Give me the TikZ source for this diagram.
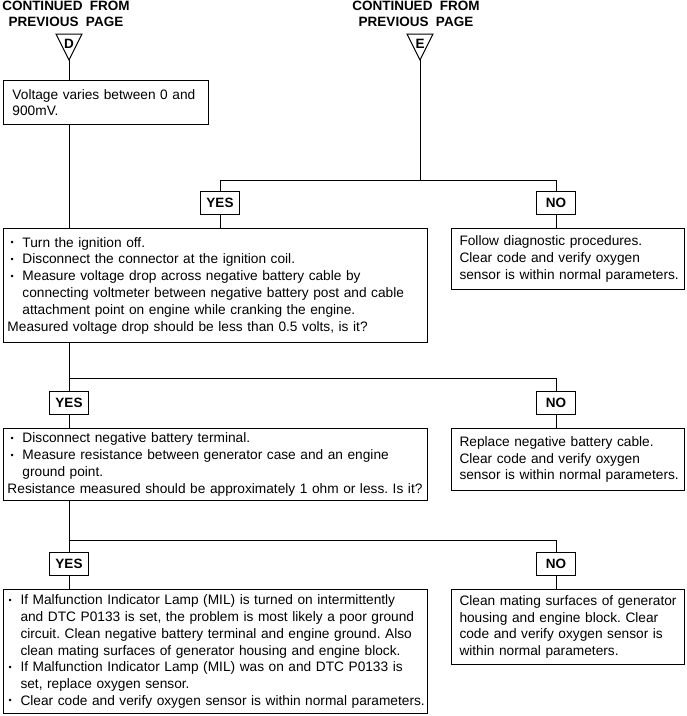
\documentclass[tikz,border=0pt]{standalone}
\usepackage{fontspec}
\setmainfont{Liberation Sans}
\frenchspacing
\newcommand\bul{\makebox[15pt][l]{\hspace{3pt}\raisebox{0.22ex}{\fontsize{9}{9}\selectfont•}}}
\newcommand\cont{\hspace*{15pt}}
\begin{document}
\begin{tikzpicture}[x=1pt,y=-1pt,
  every node/.style={font=\fontsize{13.7}{16.8}\selectfont},
  line/.style={line width=1pt},
  box/.style={draw, line width=1pt, anchor=north west, align=left, inner ysep=3pt},
  tag/.style={draw, line width=1pt, minimum width=39pt, minimum height=23pt, inner sep=0pt, font=\fontsize{13.5}{15}\selectfont\bfseries},
  head/.style={align=center, inner sep=0pt, font=\fontsize{13.5}{16}\selectfont\bfseries}]
\useasboundingbox (0,0) rectangle (687,716);

% headings
\node[head] (hD) at (66,14) {CONTINUED\ \ FROM\\PREVIOUS\ \ PAGE};
\node[head] (hE) at (416,14) {CONTINUED\ \ FROM\\PREVIOUS\ \ PAGE};
\draw[line] (56,34) -- (82,34) -- (69,60) -- cycle;
\draw[line] (407,34) -- (433,34) -- (420,60) -- cycle;
\coordinate (dA) at (69,60);
\coordinate (eA) at (420,60);
\node[inner sep=0pt, font=\fontsize{13.5}{14}\selectfont\bfseries] (dL) at (69,44) {D};
\node[inner sep=0pt, font=\fontsize{13.5}{14}\selectfont\bfseries] (eL) at (420,44) {E};

% boxes
\node[box, inner xsep=9pt, text width=187pt, minimum width=205pt, minimum height=44pt] (b1) at (3,80)
  {Voltage varies between 0 and\\900mV.};
\node[box, inner xsep=4pt, text width=416pt, minimum width=424pt, minimum height=114pt] (b2) at (3,228)
  {\bul Turn the ignition off.\\
   \bul Disconnect the connector at the ignition coil.\\
   \bul Measure voltage drop across negative battery cable by\\
   \cont connecting voltmeter between negative battery post and cable\\
   \cont attachment point on engine while cranking the engine.\\
   Measured voltage drop should be less than 0.5 volts, is it?};
\node[box, inner xsep=8pt, text width=217pt, minimum width=233pt, minimum height=61pt] (r1) at (451,228)
  {\mbox{Follow diagnostic procedures.}\\\mbox{Clear code and verify oxygen}\\\mbox{sensor is within normal parameters.}};
\node[box, inner xsep=4pt, text width=416pt, minimum width=424pt, minimum height=72pt] (b3) at (3,428)
  {\bul Disconnect negative battery terminal.\\
   \bul Measure resistance between generator case and an engine\\
   \cont ground point.\\
   Resistance measured should be approximately 1 ohm or less. Is it?};
\node[box, inner xsep=8pt, text width=217pt, minimum width=233pt, minimum height=62pt] (r2) at (451,428)
  {\mbox{Replace negative battery cable.}\\\mbox{Clear code and verify oxygen}\\\mbox{sensor is within normal parameters.}};
\node[box, inner xsep=2pt, text width=420pt, minimum width=424pt, minimum height=124pt] (b4) at (3,589)
  {\bul If Malfunction Indicator Lamp (MIL) is turned on intermittently\\
   \cont and DTC P0133 is set, the problem is most likely a poor ground\\
   \cont circuit. Clean negative battery terminal and engine ground. Also\\
   \cont clean mating surfaces of generator housing and engine block.\\
   \bul If Malfunction Indicator Lamp (MIL) was on and DTC P0133 is\\
   \cont set, replace oxygen sensor.\\
   \bul Clear code and verify oxygen sensor is within normal parameters.};
\node[box, inner xsep=8pt, text width=217pt, minimum width=233pt, minimum height=75pt] (r3) at (451,589)
  {\mbox{Clean mating surfaces of generator}\\\mbox{housing and engine block. Clear}\\\mbox{code and verify oxygen sensor is}\\\mbox{within normal parameters.}};

% yes/no tags
\node[tag] (y1) at (220,202.5) {YES};
\node[tag] (n1) at (556,202.5) {NO};
\node[tag] (y2) at (69,402.5) {YES};
\node[tag] (n2) at (556,402.5) {NO};
\node[tag] (y3) at (69,563.5) {YES};
\node[tag] (n3) at (556,563.5) {NO};

% junctions
\coordinate (j1) at (420,180);
\coordinate (j1l) at (220,180);
\coordinate (j1r) at (556,180);
\coordinate (j2) at (69,378);
\coordinate (j2r) at (556,378);
\coordinate (j3) at (69,540);
\coordinate (j3r) at (556,540);

% connectors
\draw[line] (dA) -- (b1.north -| dA);
\draw[line] (b1.south -| dA) -- (b2.north -| dA);
\draw[line] (eA) -- (j1);
\draw[line] (j1l) -- (j1r);
\draw[line] (j1l) -- (y1.north);
\draw[line] (y1.south) -- (b2.north -| y1);
\draw[line] (j1r) -- (n1.north);
\draw[line] (n1.south) -- (r1.north -| n1);
\draw[line] (b2.south -| j2) -- (j2) -- (j2r);
\draw[line] (j2) -- (y2.north);
\draw[line] (y2.south) -- (b3.north -| y2);
\draw[line] (j2r) -- (n2.north);
\draw[line] (n2.south) -- (r2.north -| n2);
\draw[line] (b3.south -| j3) -- (j3) -- (j3r);
\draw[line] (j3) -- (y3.north);
\draw[line] (y3.south) -- (b4.north -| y3);
\draw[line] (j3r) -- (n3.north);
\draw[line] (n3.south) -- (r3.north -| n3);
\end{tikzpicture}
\end{document}
